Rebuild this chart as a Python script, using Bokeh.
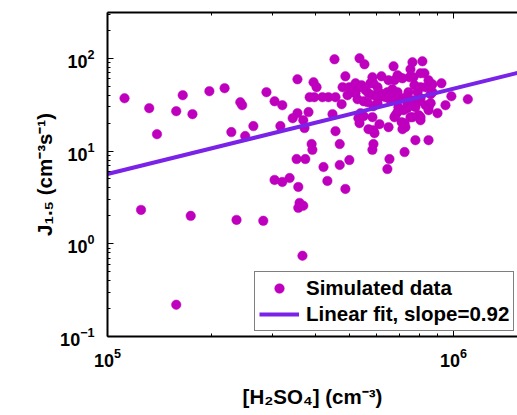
import numpy as np
from bokeh.plotting import figure
from bokeh.models import (LogAxis, Legend, LegendItem, Range1d, FixedTicker,
                          LogTickFormatter, CustomJSTickFormatter)
from bokeh.embed import file_html
from bokeh.resources import INLINE

# ---- data ----
# [H2SO4] in units of 1e5 cm^-3
h2so4_e5 = [1.12, 1.32, 1.39, 1.58, 1.65, 1.76, 1.97, 2.18, 2.42, 2.45, 2.28, 2.50, 2.64,
            1.25, 1.74, 2.36, 2.82, 1.58, 3.66, 3.59, 3.56, 3.68, 3.04, 3.20, 3.36, 3.56,
            4.32, 4.87, 3.52, 3.73, 4.21, 4.69, 5.00, 6.53, 6.44, 7.22, 3.89, 3.91, 5.87,
            5.83, 7.76, 8.47, 4.56, 3.16, 3.43, 3.54, 3.68, 3.71, 3.81, 4.47, 4.75, 3.54,
            2.88, 3.04, 3.20, 3.94, 4.02, 3.84, 3.96, 4.18, 4.35, 4.56, 4.53, 5.35, 5.53,
            6.71, 7.61, 8.13, 4.87, 4.78, 5.00, 5.21, 5.42, 5.14, 5.28, 5.68, 5.83, 5.87,
            6.03, 6.19, 6.49, 6.75, 6.98, 6.66, 6.89, 7.46, 7.51, 8.03, 8.24, 8.47, 8.69,
            9.23, 7.71, 8.03, 8.30, 8.59, 9.86, 11.0, 9.48, 8.99, 8.47, 8.03, 7.61, 7.82,
            7.36, 7.17, 6.89, 6.75, 7.08, 7.22, 7.12, 6.49, 6.11, 5.91, 5.68, 5.35, 5.50,
            5.87, 6.07, 6.36, 6.89, 7.12, 5.28, 4.94, 5.21, 5.57, 5.75, 5.87, 6.15, 6.44,
            6.66, 5.64, 6.03, 6.89, 7.17, 6.93, 5.39, 5.31, 5.83, 6.80, 5.87, 7.66, 7.41,
            7.87, 8.69, 7.26, 7.61, 8.03, 8.30, 8.59, 7.36, 7.76, 7.51, 7.93, 8.47, 8.03,
            7.26, 6.58, 5.50, 4.69]
# J_1.5 in cm^-3 s^-1
j15 = [37.1, 29.0, 15.2, 26.9, 40.0, 25.0, 44.2, 47.6, 33.6, 31.2, 16.0, 14.5, 18.6,
       2.32, 2.00, 1.81, 1.77, 0.22, 0.743, 2.76, 2.44, 2.57, 4.88, 4.64, 5.12, 4.10,
       4.76, 3.90, 8.20, 8.20, 6.73, 7.07, 8.00, 8.20, 6.40, 9.75, 11.9, 10.3, 11.9,
       10.3, 13.1, 13.1, 16.4, 18.6, 22.6, 25.6, 21.5, 17.7, 26.3, 25.0, 32.0, 59.4,
       43.1, 34.4, 31.2, 55.2, 48.8, 38.1, 38.1, 38.1, 38.1, 38.1, 97.6, 100.0, 86.2,
       82.0, 90.6, 92.8, 64.0, 48.8, 48.8, 53.8, 51.3, 43.1, 36.2, 42.0, 62.5, 53.8,
       48.8, 64.0, 58.0, 58.0, 62.5, 46.4, 43.1, 62.5, 76.2, 69.0, 69.0, 58.0, 52.5,
       53.8, 51.3, 48.8, 48.8, 41.0, 39.0, 36.2, 31.2, 25.6, 29.7, 23.2, 23.2, 32.8,
       32.8, 27.6, 26.3, 23.2, 20.5, 20.0, 17.2, 18.1, 19.5, 15.6, 17.2, 20.0, 23.8,
       30.5, 37.1, 38.1, 65.6, 60.9, 47.6, 40.0, 42.0, 45.3, 53.8, 40.0, 42.0, 43.1,
       40.0, 33.6, 32.8, 35.3, 37.1, 29.7, 25.6, 22.6, 23.2, 24.4, 16.8, 62.5, 43.1,
       43.1, 43.1, 37.1, 35.3, 37.1, 31.2, 32.8, 29.0, 29.7, 23.2, 24.4, 27.6, 21.5,
       18.1, 35.3, 34.4, 11.9]

fit_slope = 0.92
fit_j_at_1e5 = 5.66
x_limits = [1.0e5, 1.531e6]
y_limits = [0.1, 312.0]
x_major = [1e5, 1e6]
y_major = [1e-1, 1e0, 1e1, 1e2]

x_title = "[H\u2082SO\u2084] (cm\u207b\u00b3)"
y_title = "J\u2081.\u2085 (cm\u207b\u00b3s\u207b\u00b9)"
legend_labels = ["Simulated data", "Linear fit, slope=0.92"]

# ---- derived ----
FONT = "Liberation Sans"
x = np.array(h2so4_e5) * 1e5
y = np.array(j15)
fit_x = np.array(x_limits)
fit_y = fit_j_at_1e5 * (fit_x / 1e5) ** fit_slope


def minors(majors, upto):
    out = []
    for m in majors + [majors[-1] * 10]:
        for k in range(2, 10):
            v = m * k
            if v < upto:
                out.append(v)
    return out


x_minor = minors(x_major, 2e6)
y_minor = minors(y_major, 1e3)

# ---- figure ----
p = figure(width=517, height=415,
           x_axis_type="log", y_axis_type="log",
           x_range=Range1d(*x_limits), y_range=Range1d(*y_limits),
           output_backend="svg", toolbar_location=None,
           min_border_left=107, min_border_right=0, min_border_top=12, min_border_bottom=79)
p.outline_line_color = None
p.grid.visible = False
p.background_fill_color = "white"
p.border_fill_color = "white"

bottom_axis = p.below[0]
left_axis = p.left[0]
top_axis = LogAxis()
p.add_layout(top_axis, "above")

bottom_axis.ticker = FixedTicker(ticks=x_major, minor_ticks=x_minor)
bottom_axis.formatter = LogTickFormatter()
left_axis.ticker = FixedTicker(ticks=y_major, minor_ticks=y_minor)
left_axis.formatter = LogTickFormatter()
top_axis.ticker = FixedTicker(ticks=x_major, minor_ticks=x_minor)
top_axis.formatter = CustomJSTickFormatter(code="return ''")

for ax in [bottom_axis, left_axis, top_axis]:
    ax.axis_line_color = "black"
    ax.axis_line_width = 2
    ax.major_tick_in = 6
    ax.major_tick_out = 0
    ax.minor_tick_in = 3
    ax.minor_tick_out = 0
    ax.major_tick_line_color = "black"
    ax.minor_tick_line_color = "black"
    ax.major_label_text_font = FONT
    ax.major_label_text_font_style = "bold"
    ax.major_label_text_font_size = "18px"
    ax.major_label_text_color = "black"
    ax.axis_label_text_font = FONT
    ax.axis_label_text_font_style = "bold"
    ax.axis_label_text_font_size = "20.5px"
    ax.axis_label_text_color = "black"

top_axis.major_label_text_font_size = "1px"
top_axis.major_label_standoff = 0
bottom_axis.major_label_standoff = 11
left_axis.major_label_standoff = 13

bottom_axis.axis_label = x_title
bottom_axis.axis_label_standoff = 15
left_axis.axis_label = y_title
left_axis.axis_label_standoff = 1

r_sc = p.scatter(x, y, size=9.5, fill_color="#BE00BE", line_color="#BE00BE", line_width=0.5)
r_fit = p.line(fit_x, fit_y, line_width=4, line_color="#7A22E8")

legend = Legend(items=[LegendItem(label=legend_labels[0], renderers=[r_sc]),
                       LegendItem(label=legend_labels[1], renderers=[r_fit])],
                location=(147, 5), orientation="vertical",
                label_text_font=FONT, label_text_font_style="bold",
                label_text_font_size="20.5px", label_text_color="black",
                border_line_color="black", border_line_width=1,
                background_fill_color="white", background_fill_alpha=1.0,
                padding=4, spacing=2, margin=0, glyph_width=40, glyph_height=24,
                label_height=24, label_standoff=7)
p.add_layout(legend)

open("out.html", "w").write(file_html(p, INLINE))
